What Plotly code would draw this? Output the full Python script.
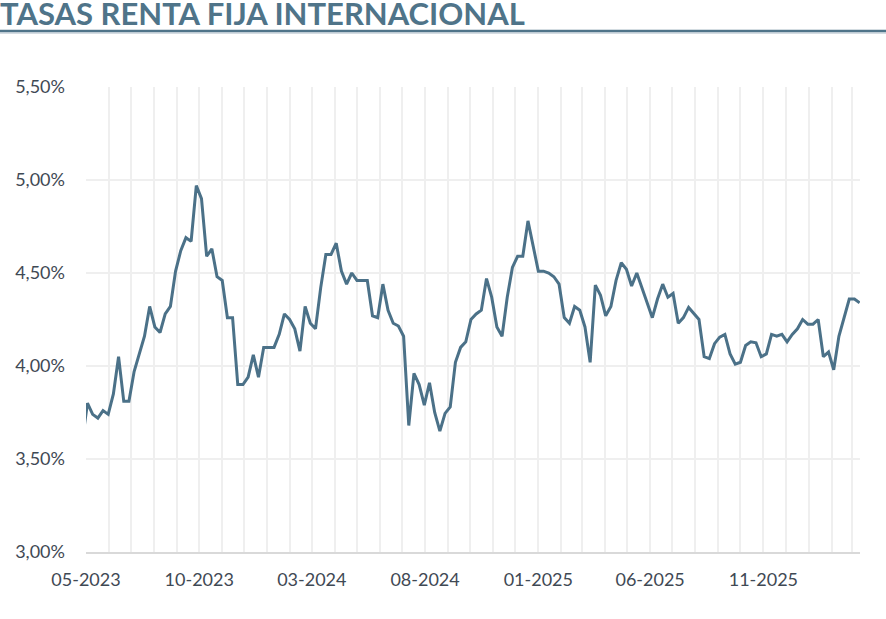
import pandas as pd
import plotly.graph_objects as go

# Weekly observations (first one lies just before the visible axis range)
start_date = "2023-04-26"
rates = [
    3.60,
    3.80, 3.74, 3.72, 3.76, 3.74, 3.85, 4.05, 3.81, 3.81, 3.97,
    4.06, 4.16, 4.32, 4.21, 4.18, 4.28, 4.32, 4.51, 4.62, 4.69,
    4.67, 4.97, 4.90, 4.59, 4.63, 4.48, 4.46, 4.26, 4.26, 3.90,
    3.90, 3.94, 4.06, 3.94, 4.10, 4.10, 4.10, 4.17, 4.28, 4.25,
    4.20, 4.08, 4.32, 4.23, 4.20, 4.42, 4.60, 4.60, 4.66, 4.51,
    4.44, 4.50, 4.46, 4.46, 4.46, 4.27, 4.26, 4.44, 4.30, 4.23,
    4.215, 4.16, 3.68, 3.96, 3.90, 3.79, 3.91, 3.75, 3.65, 3.745,
    3.78, 4.02, 4.10, 4.13, 4.25, 4.28, 4.30, 4.47, 4.37, 4.21,
    4.16, 4.37, 4.53, 4.59, 4.59, 4.78, 4.64, 4.51, 4.51, 4.50,
    4.48, 4.44, 4.26, 4.23, 4.32, 4.30, 4.21, 4.02, 4.435, 4.38,
    4.27, 4.32, 4.46, 4.555, 4.52, 4.43, 4.50, 4.42, 4.34, 4.26,
    4.36, 4.44, 4.37, 4.39, 4.23, 4.26, 4.315, 4.28, 4.25, 4.05,
    4.04, 4.12, 4.155, 4.17, 4.065, 4.01, 4.02, 4.11, 4.13, 4.125,
    4.05, 4.065, 4.17, 4.16, 4.17, 4.13, 4.17, 4.20, 4.25, 4.225,
    4.225, 4.25, 4.05, 4.075, 3.98, 4.16, 4.26, 4.36, 4.36, 4.34,
]
dates = pd.date_range(start_date, periods=len(rates), freq="7D")

title_text = "TASAS RENTA FIJA INTERNACIONAL"
y_ticks = [3.0, 3.5, 4.0, 4.5, 5.0, 5.5]
y_tick_labels = ["3,00%", "3,50%", "4,00%", "4,50%", "5,00%", "5,50%"]

LINE = "#4b7188"
GRID = "#efefef"
TXT = "#3f4954"
TITLE = "#4f7489"

fig = go.Figure()
fig.add_trace(go.Scatter(x=dates, y=rates, mode="lines",
                         line=dict(color=LINE, width=3), showlegend=False,
                         hoverinfo="skip"))

W, H = 886, 619
L, R, T, B = 86, 26, 87, 67
pw, ph = W - L - R, H - T - B


def py(Y):
    return (H - B - Y) / ph


def px(X):
    return (X - L) / pw


fig.update_layout(
    width=W, height=H,
    margin=dict(l=L, r=R, t=T, b=B),
    paper_bgcolor="white", plot_bgcolor="white",
    font=dict(family="Lato", size=18, color=TXT),
    xaxis=dict(
        type="date",
        range=["2023-05-01", "2026-03-11 12:00"],
        tick0="2023-05-01", dtick="M5", tickformat="%m-%Y",
        showgrid=True, gridcolor=GRID, gridwidth=2,
        minor=dict(dtick="M1", tick0="2023-05-01", showgrid=True,
                   gridcolor=GRID, gridwidth=2, ticks=""),
        ticks="", showline=True, linecolor="#d9d9d9", linewidth=2,
        zeroline=False, ticklabelstandoff=10,
        tickfont=dict(family="Lato", size=18, color=TXT),
    ),
    yaxis=dict(
        range=[3.0, 5.5], tickvals=y_ticks, ticktext=y_tick_labels,
        showgrid=True, gridcolor=GRID, gridwidth=2, zeroline=False,
        showline=False, ticks="", ticklabelstandoff=20,
        tickfont=dict(family="Lato", size=18, color=TXT),
    ),
    shapes=[
        dict(type="line", xref="paper", yref="paper",
             x0=px(0), x1=px(W), y0=py(31), y1=py(31),
             line=dict(color=TITLE, width=2.5)),
        dict(type="line", xref="paper", yref="paper",
             x0=px(0), x1=px(W), y0=py(33), y1=py(33),
             line=dict(color="#a9bac6", width=1)),
    ],
    annotations=[
        dict(text="<b>" + title_text + "</b>", xref="paper", yref="paper",
             x=px(-1), y=py(12.5), borderpad=0,
             xanchor="left", yanchor="middle", showarrow=False,
             font=dict(family="Lato", size=31, color=TITLE)),
    ],
)

fig.write_html("out.html", config={"displayModeBar": False},
               post_script="document.body.style.margin='0px';")
